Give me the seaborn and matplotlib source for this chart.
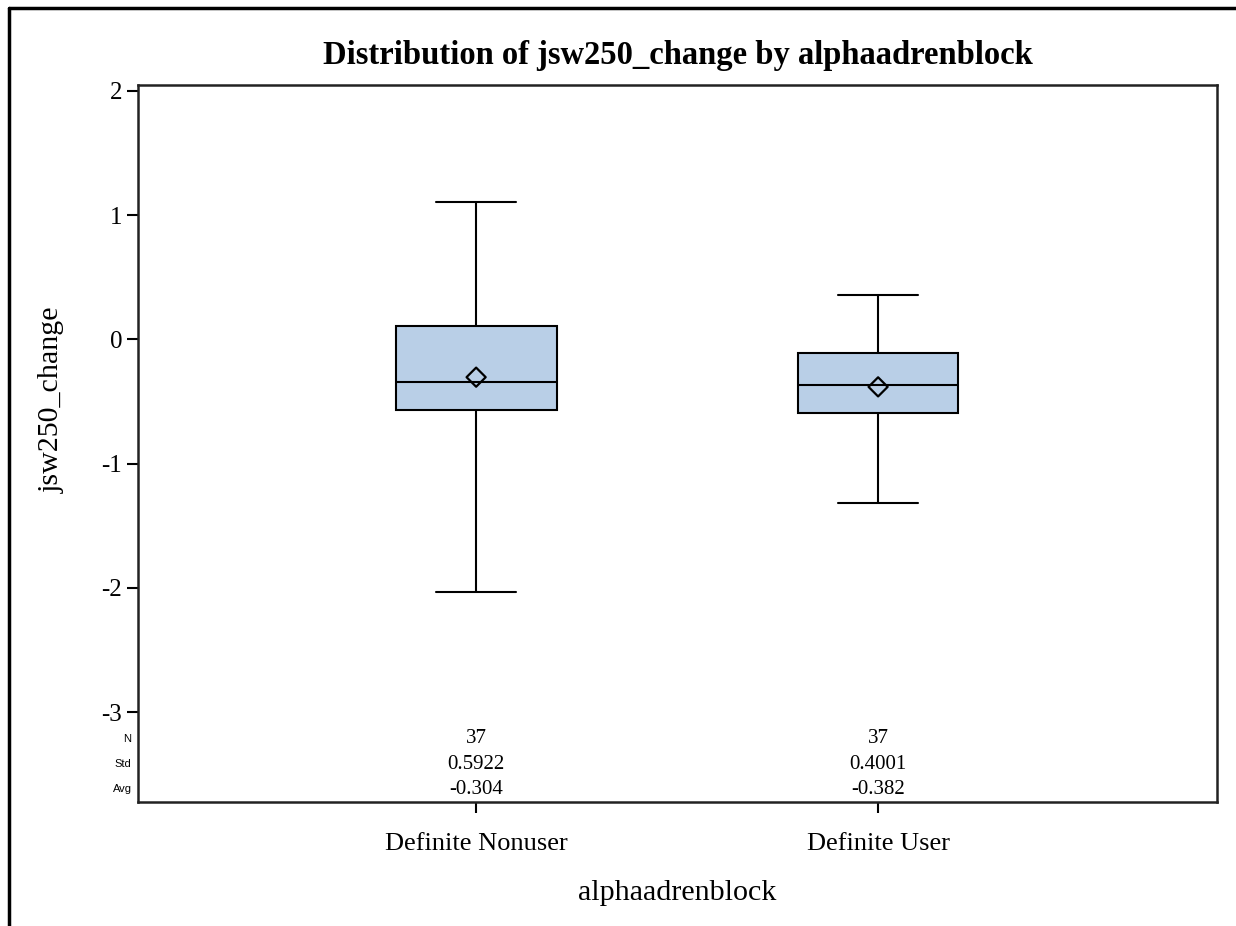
import pandas as pd
import seaborn as sns
import matplotlib.pyplot as plt
from matplotlib.lines import Line2D
from matplotlib.transforms import blended_transform_factory

groups = ["Definite Nonuser", "Definite User"]
whisker_low = [-2.035, -1.32]
q1 = [-0.571, -0.59]
median = [-0.343, -0.365]
q3 = [0.11, -0.107]
whisker_high = [1.105, 0.354]
means = [-0.304, -0.382]
n_obs = [37, 37]
std_dev = [0.5922, 0.4001]
avg_text = ["-0.304", "-0.382"]
y_ticks = [2, 1, 0, -1, -2, -3]

# five-number summary per group -> boxplot with whiskers at min/max
rows = []
for i, g in enumerate(groups):
    for v in [whisker_low[i], q1[i], median[i], q3[i], whisker_high[i]]:
        rows.append({"alphaadrenblock": g, "jsw250_change": v})
df = pd.DataFrame(rows)

sns.set_theme(style="ticks")
plt.rcParams["font.family"] = ["Liberation Serif", "DejaVu Serif"]
plt.rcParams["text.color"] = "black"
plt.rcParams["axes.labelcolor"] = "black"

fig = plt.figure(figsize=(12.36, 9.26), dpi=100)
ax = fig.add_axes([0.1117, 0.1339, 0.8729, 0.7743])

sns.boxplot(data=df, x="alphaadrenblock", y="jsw250_change", order=groups,
            whis=(0, 100), width=0.4, color="#B9CFE7", linecolor="black",
            linewidth=1.5, fliersize=0, saturation=1, ax=ax)
sns.scatterplot(x=groups, y=means, marker="D", s=95, facecolor="none",
                edgecolor="black", linewidth=1.6, zorder=5, ax=ax)

ax.set_xlim(-0.841, 1.843)
ax.set_ylim(-3.724, 2.048)
ax.set_yticks(y_ticks)
ax.set_yticklabels([str(t) for t in y_ticks])
for side in ["top", "right", "left", "bottom"]:
    ax.spines[side].set_visible(True)
    ax.spines[side].set_linewidth(1.8)
    ax.spines[side].set_color("#222222")
ax.tick_params(axis="both", direction="out", length=8, width=1.5, labelsize=18,
               colors="black")
ax.tick_params(axis="x", pad=14, labelsize=19)

ax.set_xlabel("alphaadrenblock", fontsize=21.6, labelpad=18, color="black")
ax.set_ylabel("jsw250_change", fontsize=21.6, color="black")
ax.yaxis.set_label_coords(-0.0677, 0.561)
ax.set_title("Distribution of jsw250_change by alphaadrenblock", fontsize=23.5,
             fontweight="bold", pad=15, color="black")

# statistics table inside the bottom of the plot
trans = blended_transform_factory(ax.transData, ax.transAxes)
row_y = [0.0879, 0.053, 0.018]
row_names = ["N", "Std", "Avg"]
for i, g in enumerate(groups):
    vals = [str(n_obs[i]), f"{std_dev[i]:.4f}", avg_text[i]]
    for y, v in zip(row_y, vals):
        ax.text(i, y, v, transform=trans, ha="center", va="center", fontsize=15)
for y, name in zip(row_y, row_names):
    ax.text(-0.006, y, name, transform=ax.transAxes, ha="right", va="center",
            fontsize=8, family="Liberation Sans")

# outer frame lines (top and left)
fig.add_artist(Line2D([0.0073, 1.0], [0.9914, 0.9914], color="black", linewidth=2.5))
fig.add_artist(Line2D([0.0073, 0.0073], [0.0, 0.9914], color="black", linewidth=2.5))

fig.savefig("out.png", dpi=100)
